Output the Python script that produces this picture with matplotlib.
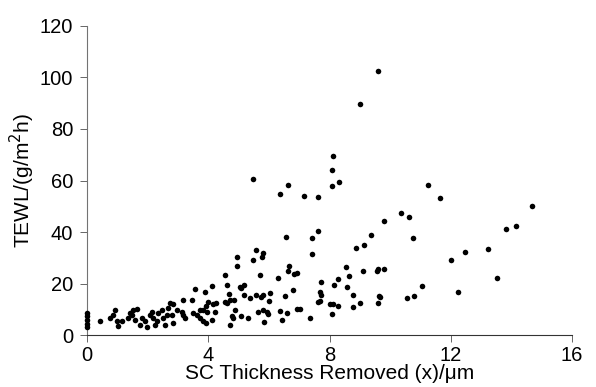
import matplotlib.pyplot as plt

plt.rcParams["font.family"] = ["Liberation Sans", "DejaVu Sans"]

# SC thickness removed (um) and TEWL (g/m2h)
thickness = [
    0, 0, 0, 0, 0,
    0.43, 0.76, 0.92, 0.87, 0.98, 1.03, 1.14, 1.34, 1.42, 1.47, 1.53, 1.64,
    1.58, 1.75, 1.80, 1.91, 1.97, 2.08, 2.19, 2.13, 2.24, 2.30, 2.35, 2.46,
    2.52, 2.63, 2.57, 2.68, 2.74, 2.85, 2.79, 2.85, 2.96, 3.13, 3.18, 3.23,
    3.18, 3.46, 3.56, 3.51, 3.62, 3.73,
    3.84, 3.95, 4.22, 3.73, 3.84, 3.93, 4.12, 3.93, 4.00, 4.17, 4.25, 3.89,
    4.12, 4.61, 4.69, 4.54, 4.55, 4.61, 4.72, 4.86, 4.88, 4.78, 4.83, 4.72,
    5.08, 5.32, 4.94, 4.94, 5.05, 5.19, 5.09, 5.18, 5.38, 5.57, 5.75, 5.82,
    5.46, 5.57, 5.82, 5.77, 5.71, 5.49, 5.80, 5.63, 5.93, 5.97, 5.84, 6.01,
    6.03, 6.30, 6.37, 6.43, 6.61, 6.54, 6.80, 6.62, 6.67, 6.84, 6.92, 6.57,
    6.62, 6.37, 6.92, 7.01, 7.34, 7.17, 7.61, 7.43, 7.61, 7.42, 7.72, 7.69,
    7.72, 7.69, 7.63, 8.00, 8.10, 8.27, 8.09, 8.13, 8.28, 8.54, 8.65, 8.56,
    8.77, 8.77, 8.99, 8.11, 8.08, 8.08, 8.31, 8.86, 9.14, 9.36, 9.79, 9.11,
    9.56, 9.61, 9.79, 9.63, 9.67, 9.60, 9.01, 9.61, 10.36, 10.63, 10.75,
    10.56, 10.78, 11.06, 11.26, 11.64, 11.99, 12.24, 12.48, 13.22, 13.53,
    13.81, 14.16, 14.66,
]
tewl = [
    3.0, 4.5, 6.0, 7.5, 8.6,
    5.3, 6.5, 9.8, 7.9, 5.3, 3.7, 5.3, 6.5, 8.5, 7.9, 9.8, 10.0,
    5.9, 4.0, 6.5, 5.3, 3.3, 7.9, 6.5, 9.1, 4.0, 5.3, 8.5, 9.8,
    6.5, 7.9, 4.0, 10.4, 12.4, 12.0, 7.9, 4.6, 9.8, 9.1, 7.9, 6.5,
    13.7, 13.7, 18.0, 8.5, 7.9, 9.8,
    9.8, 9.1, 8.8, 6.5, 5.6, 4.9, 6.0, 11.5, 13.0, 12.1, 12.5, 16.7,
    19.0, 19.5, 16.0, 23.5, 13.0, 12.3, 13.7, 13.7, 9.8, 7.6, 6.8, 4.1,
    7.6, 6.5, 26.8, 30.3, 18.6, 19.5, 18.2, 15.4, 14.6, 15.4, 14.7, 15.5,
    29.3, 32.9, 32.0, 30.3, 23.5, 60.6, 9.8, 8.8, 8.8, 8.1, 5.0, 13.4,
    16.5, 22.1, 9.4, 5.9, 8.5, 15.1, 17.4, 24.8, 26.8, 23.8, 24.2, 37.9,
    58.1, 54.9, 10.2, 10.2, 6.5, 54.0, 53.5, 37.7, 40.5, 31.6, 20.7, 16.9,
    15.6, 13.4, 12.8, 12.0, 12.0, 11.4, 8.2, 19.4, 21.6, 26.5, 22.8, 18.6,
    15.5, 11.0, 12.3, 69.7, 63.9, 57.8, 59.3, 33.9, 35.1, 38.7, 44.3, 24.8,
    24.7, 25.5, 25.6, 15.1, 14.9, 12.6, 89.6, 102.4, 47.3, 45.8, 37.7,
    14.3, 15.3, 18.9, 58.2, 53.1, 29.0, 16.7, 32.2, 33.5, 22.3,
    41.3, 42.3, 50.3,
]
x_ticks = [0, 4, 8, 12, 16]
y_ticks = [0, 20, 40, 60, 80, 100, 120]

fig = plt.figure(figsize=(5.96, 3.87), dpi=100)
ax = fig.add_axes([0.146, 0.134, 0.814, 0.799])

ax.scatter(thickness, tewl, s=16, color="black", linewidths=0, clip_on=False, zorder=3)

ax.set_xlim(0, 16)
ax.set_ylim(0, 120)
ax.set_xticks(x_ticks)
ax.set_yticks(y_ticks)

for side in ("top", "right"):
    ax.spines[side].set_visible(False)
ax.spines["left"].set_color("0.45")
ax.spines["left"].set_linewidth(0.8)
ax.spines["bottom"].set_color("0.2")
ax.spines["bottom"].set_linewidth(0.8)

ax.tick_params(axis="both", labelsize=14.5, length=5, width=0.7, color="0.4")
ax.tick_params(axis="x", pad=3)
ax.tick_params(axis="y", pad=5)

ax.set_xlabel("SC Thickness Removed (x)/\u03bcm", fontsize=15, labelpad=-1)
ax.set_ylabel("TEWL/(g/m$^2$h)", fontsize=15, labelpad=2)

fig.savefig("out.png", dpi=100)
